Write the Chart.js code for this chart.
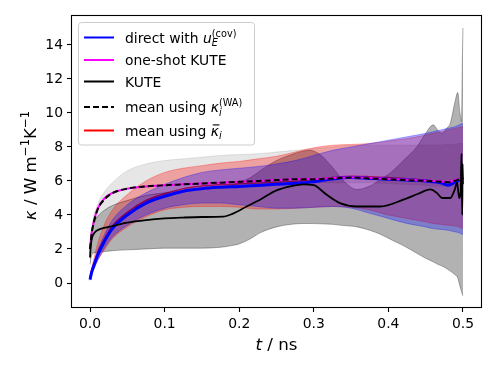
<!DOCTYPE html>
<html><head><meta charset="utf-8">
<script src="https://cdn.jsdelivr.net/npm/chart.js@4.4.0/dist/chart.umd.min.js"></script>
<style>html,body{margin:0;padding:0;background:#fff;}canvas{display:block;}</style>
</head><body>
<canvas id="c" width="498" height="373"></canvas>
<script>
const xTicks=[0,0.1,0.2,0.3,0.4,0.5];
const yTicks=[0,2,4,6,8,10,12,14];
const tLine=[0,0.002,0.005,0.01,0.02,0.03,0.05,0.075,0.1,0.125,0.15,0.175,0.2,0.225,0.25,0.275,0.3,0.325,0.35,0.375,0.4,0.425,0.45,0.46,0.47,0.48,0.49,0.495,0.5];
const directVals=[0.2,0.6,1.0,1.6,2.5,3.2,4.0,4.7,5.1,5.4,5.55,5.63,5.68,5.74,5.8,5.86,5.95,6.12,6.2,6.15,6.1,6.05,6.0,5.95,5.9,5.75,5.95,6.05,6.2];
const oneShotVals=[2.0,2.9,3.6,4.35,5.0,5.3,5.55,5.68,5.75,5.8,5.85,5.9,5.95,6.0,6.05,6.1,6.12,6.17,6.22,6.17,6.12,6.07,6.02,6.0,5.97,5.95,6.05,6.12,6.25];
const meanWAVals=[2.0,2.85,3.55,4.3,4.95,5.28,5.55,5.68,5.75,5.8,5.85,5.9,5.95,6.0,6.05,6.1,6.1,6.15,6.2,6.15,6.1,6.05,6.0,5.98,5.95,5.93,6.02,6.1,6.2];
const meanBarVals=[0.3,0.7,1.1,1.75,2.65,3.35,4.15,4.85,5.25,5.55,5.7,5.78,5.83,5.88,5.92,5.98,6.08,6.2,6.28,6.25,6.2,6.12,6.05,6.0,5.98,5.95,6.05,6.15,6.25];
const directUpper=[0.25,0.7,1.2,1.9,2.9,3.7,4.6,5.3,5.8,6.2,6.5,6.65,6.75,6.85,7.0,7.2,7.5,7.8,8.0,8.2,8.4,8.6,8.8,8.9,9.0,9.1,9.2,9.3,9.4];
const directLower=[0.15,0.5,0.8,1.3,2.1,2.7,3.4,4.0,4.4,4.6,4.7,4.7,4.6,4.5,4.4,4.4,4.45,4.5,4.4,4.1,3.8,3.5,3.3,3.2,3.15,3.1,3.0,2.95,2.85];
const meanBarUpper=[0.35,0.85,1.4,2.3,3.5,4.3,5.2,6.0,6.5,6.75,6.9,7.05,7.15,7.3,7.45,7.7,7.95,8.1,8.15,8.2,8.35,8.5,8.7,8.8,8.9,9.0,9.1,9.15,9.2];
const meanBarLower=[0.25,0.55,0.85,1.3,2.0,2.6,3.3,3.9,4.3,4.45,4.5,4.5,4.45,4.35,4.35,4.4,4.45,4.5,4.45,4.3,4.0,3.8,3.6,3.5,3.45,3.4,3.35,3.3,3.2];
const meanWAUpper=[2.0,3.0,3.9,4.6,5.4,5.9,6.6,7.0,7.2,7.3,7.4,7.5,7.55,7.6,7.7,7.8,7.9,8.0,8.1,8.1,8.1,8.1,8.1,8.1,8.1,8.15,8.15,8.2,8.2];
const meanWALower=[1.6,2.8,3.4,3.9,4.3,4.55,4.85,5.15,5.3,5.45,5.55,5.65,5.75,5.8,5.85,5.9,5.9,5.9,5.9,5.9,5.85,5.8,5.75,5.7,5.7,5.7,5.7,5.7,5.7];
const tKute=[0,0.001,0.003,0.006,0.01,0.02,0.03,0.05,0.075,0.1,0.125,0.15,0.178,0.19,0.21,0.228,0.25,0.27,0.286,0.3,0.317,0.335,0.358,0.389,0.42,0.44,0.456,0.465,0.472,0.483,0.489,0.492,0.495,0.497,0.498,0.499,0.4995,0.5];
const kuteVals=[1.5,2.2,2.7,2.95,3.1,3.25,3.35,3.55,3.7,3.8,3.85,3.88,3.9,4.05,4.5,4.9,5.45,5.7,5.8,5.75,5.2,4.7,4.5,4.5,4.9,5.25,5.5,5.3,5.0,5.0,5.5,5.9,5.0,5.4,7.6,4.0,7.0,5.8];
const tKuteBand=[0,0.002,0.004,0.01,0.02,0.03,0.05,0.075,0.1,0.125,0.15,0.175,0.19,0.2,0.215,0.228,0.25,0.27,0.285,0.295,0.31,0.325,0.34,0.358,0.375,0.39,0.406,0.42,0.438,0.45,0.46,0.466,0.472,0.478,0.483,0.489,0.493,0.496,0.498,0.499,0.5];
const kuteUpper=[1.6,2.8,3.5,3.9,4.3,4.55,4.85,5.15,5.3,5.45,5.55,5.65,5.75,5.9,6.2,6.6,7.2,7.55,7.75,7.8,7.5,6.8,6.0,5.5,5.7,6.1,6.6,7.2,8.0,8.8,9.3,9.0,8.8,9.1,9.4,10.6,11.2,10.0,9.5,12.5,15.0];
const kuteLower=[1.1,1.6,1.75,1.8,1.85,1.9,1.95,2.0,2.05,2.05,2.05,2.1,2.2,2.3,2.6,2.95,3.3,3.45,3.5,3.5,3.48,3.45,3.38,3.3,3.1,2.85,2.5,2.2,1.75,1.45,1.25,1.1,1.0,0.85,0.7,0.5,0.3,-0.2,-0.5,-0.65,-0.75];

const FONT='"DejaVu Sans"';
const FS=13.9;
function pts(t,v){return t.map((x,i)=>({x:x,y:v[i]}));}
function lineDs(label,t,v,color,width,order,dash){
  return {label:label,data:pts(t,v),borderColor:color,borderWidth:width,pointRadius:0,fill:false,order:order,
    borderDash:dash||[],cubicInterpolationMode:'monotone',borderCapStyle:'butt',borderJoinStyle:'round'};
}
function bandDs(t,lo,hi,color,order){
  return [
    {label:'_lo',data:pts(t,lo),borderColor:color,borderWidth:1,pointRadius:0,fill:false,order:order,cubicInterpolationMode:'monotone'},
    {label:'_hi',data:pts(t,hi),borderColor:color,borderWidth:1,pointRadius:0,fill:'-1',backgroundColor:color,order:order,cubicInterpolationMode:'monotone'}
  ];
}
const datasets=[
  lineDs('mean using kbar',tLine,meanBarVals,'#ff0000',1.5,20),
  ...bandDs(tLine,meanWALower,meanWAUpper,'rgba(128,128,128,0.2)',15),
  ...bandDs(tKuteBand,kuteLower,kuteUpper,'rgba(0,0,0,0.3)',14),
  ...bandDs(tLine,meanBarLower,meanBarUpper,'rgba(255,0,0,0.3)',13),
  ...bandDs(tLine,directLower,directUpper,'rgba(0,0,255,0.3)',12),
  lineDs('direct',tLine,directVals,'#0000ff',3,3),
  lineDs('one-shot KUTE',tLine,oneShotVals,'#ff00ff',2,2),
  lineDs('KUTE',tKute,kuteVals,'#000000',1.8,1),
  lineDs('mean WA',tLine,meanWAVals,'#000000',2,0,[6,3])
];

function rich(ctx,x,y,parts,base){
  let cx=x,lastStart=x;
  for(const p of parts){
    const size=base*(p.s||1);
    ctx.font=(p.it?'italic ':'')+size+'px '+FONT;
    const w=ctx.measureText(p.t).width;
    let sx;
    if(p.stack){sx=lastStart;}else{sx=cx;lastStart=sx;}
    ctx.fillText(p.t,sx,y+(p.dy||0));
    if(p.bar){ctx.fillRect(sx+2,y+(p.dy||0)-size*0.8,w-1.5,1.1);}
    cx=p.stack?Math.max(cx,sx+w):sx+w;
  }
  return cx;
}
function richWidth(ctx,parts,base){
  let cx=0,lastStart=0;
  for(const p of parts){
    const size=base*(p.s||1);
    ctx.font=(p.it?'italic ':'')+size+'px '+FONT;
    const w=ctx.measureText(p.t).width;
    let sx; if(p.stack){sx=lastStart;}else{sx=cx;lastStart=sx;}
    cx=p.stack?Math.max(cx,sx+w):sx+w;
  }
  return cx;
}

const decor={
  id:'decor',
  afterDraw(chart){
    const ctx=chart.ctx,a=chart.chartArea;
    ctx.save();
    ctx.strokeStyle='#000';ctx.lineWidth=1.1;
    ctx.strokeRect(Math.round(a.left)+0.5,Math.round(a.top)+0.5,Math.round(a.right-a.left)-1,Math.round(a.bottom-a.top)-1);
    const L=78.5,T=22.5,R=254.5,B=145;
    const r=3;
    ctx.beginPath();
    ctx.moveTo(L+r,T);ctx.lineTo(R-r,T);ctx.quadraticCurveTo(R,T,R,T+r);
    ctx.lineTo(R,B-r);ctx.quadraticCurveTo(R,B,R-r,B);
    ctx.lineTo(L+r,B);ctx.quadraticCurveTo(L,B,L,B-r);
    ctx.lineTo(L,T+r);ctx.quadraticCurveTo(L,T,L+r,T);ctx.closePath();
    ctx.fillStyle='rgba(255,255,255,0.8)';ctx.fill();
    ctx.strokeStyle='#cccccc';ctx.lineWidth=1;ctx.stroke();
    const rows=[
      {y:37.5,c:'#0000ff',w:2,dash:[],parts:[{t:'direct with '},{t:'u',it:true},{t:'(cov)',s:0.7,dy:-6},{t:'E',it:true,s:0.7,dy:3.5,stack:true}]},
      {y:60,c:'#ff00ff',w:2,dash:[],parts:[{t:'one-shot KUTE'}]},
      {y:81.5,c:'#000000',w:2,dash:[],parts:[{t:'KUTE'}]},
      {y:107,c:'#000000',w:2,dash:[6,3],parts:[{t:'mean using '},{t:'κ',it:true},{t:'(WA)',s:0.7,dy:-6.5},{t:'i',it:true,s:0.7,dy:3.5,stack:true}]},
      {y:130.5,c:'#ff0000',w:2,dash:[],parts:[{t:'mean using '},{t:'κ',it:true,bar:true},{t:'i',it:true,s:0.7,dy:3.5}]}
    ];
    ctx.textBaseline='alphabetic';ctx.textAlign='left';
    for(const rw of rows){
      ctx.beginPath();ctx.setLineDash(rw.dash);ctx.strokeStyle=rw.c;ctx.lineWidth=rw.w;
      ctx.moveTo(84,rw.y);ctx.lineTo(114,rw.y);ctx.stroke();ctx.setLineDash([]);
      ctx.fillStyle='#000';
      rich(ctx,125,rw.y+5,rw.parts,FS);
    }
    const xp=[{t:'t',it:true},{t:' / ns'}];
    const xw=richWidth(ctx,xp,16.7);
    ctx.fillStyle='#000';
    rich(ctx,(a.left+a.right)/2-xw/2,350,xp,16.7);
    const yp=[{t:'κ',it:true},{t:' / W m'},{t:'−1',s:0.7,dy:-7},{t:'K'},{t:'−1',s:0.7,dy:-7}];
    const yw=richWidth(ctx,yp,16.7);
    ctx.save();
    ctx.translate(36,(a.top+a.bottom)/2+4);
    ctx.rotate(-Math.PI/2);
    rich(ctx,-yw/2,0,yp,16.7);
    ctx.restore();
    ctx.restore();
  }
};

new Chart(document.getElementById('c'),{
  type:'line',
  data:{datasets:datasets},
  options:{
    responsive:false,animation:false,devicePixelRatio:1,
    layout:{padding:{left:0,right:16,top:15,bottom:0}},
    plugins:{legend:{display:false},tooltip:{enabled:false}},
    scales:{
      x:{type:'linear',min:-0.0255,max:0.5255,
        afterBuildTicks:(s)=>{s.ticks=xTicks.map(v=>({value:v}));},
        afterFit:(s)=>{s.height=65;},
        ticks:{font:{family:'DejaVu Sans',size:FS},color:'#000',padding:4,maxRotation:0,autoSkip:false,callback:(v)=>Number(v).toFixed(1)},
        grid:{drawOnChartArea:false,drawTicks:true,tickLength:4,tickColor:'#000',tickWidth:1.1},
        border:{display:false}},
      y:{type:'linear',min:-1.47,max:15.76,
        afterBuildTicks:(s)=>{s.ticks=yTicks.map(v=>({value:v}));},
        afterFit:(s)=>{s.width=71;},
        ticks:{font:{family:'DejaVu Sans',size:FS},color:'#000',padding:4,autoSkip:false,callback:(v)=>String(v)},
        grid:{drawOnChartArea:false,drawTicks:true,tickLength:4,tickColor:'#000',tickWidth:1.1},
        border:{display:false}}
    }
  },
  plugins:[decor]
});
</script>
</body></html>
